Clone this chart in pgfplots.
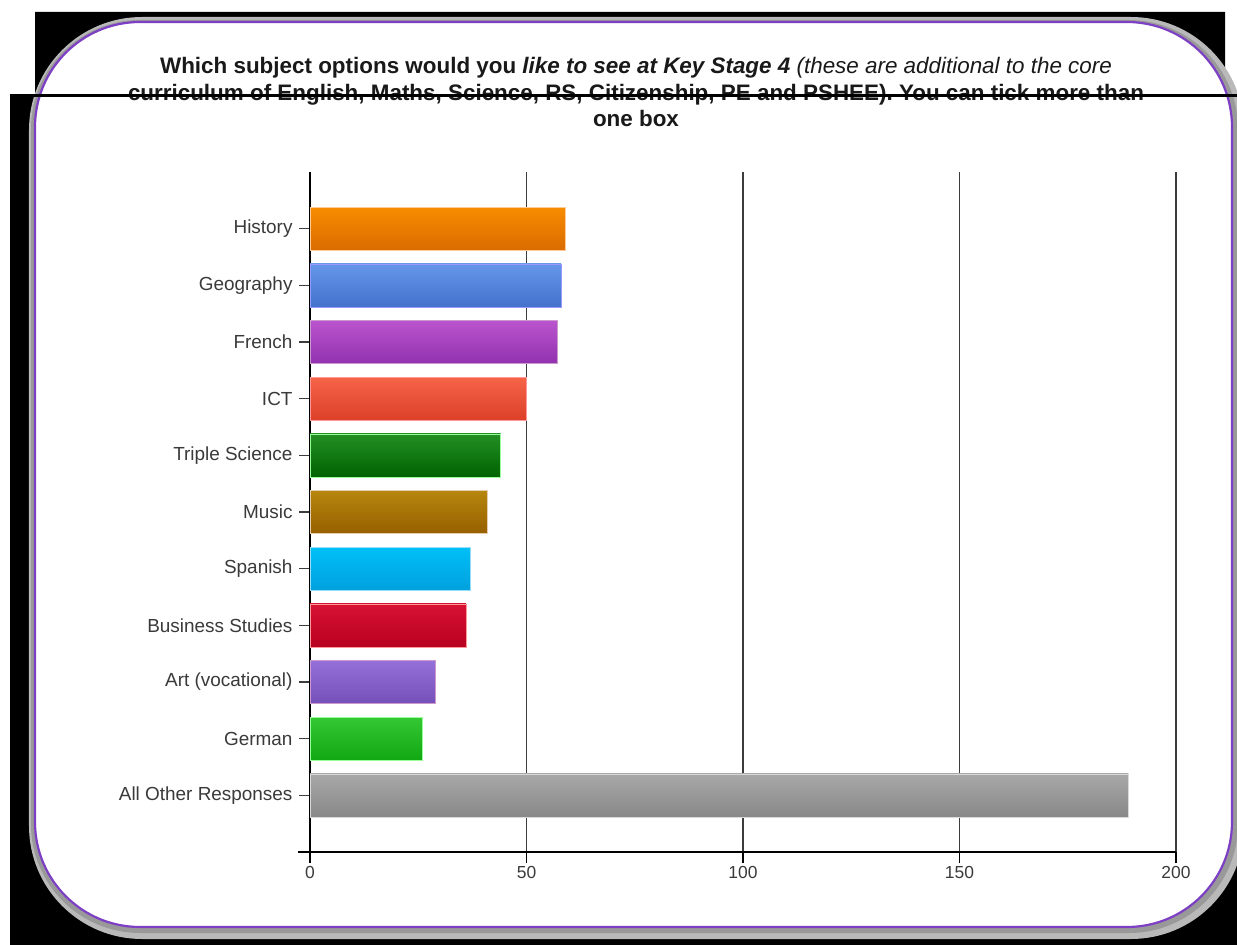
\documentclass[border=0pt]{standalone}
\usepackage{fontspec}
\setmainfont{Liberation Sans}
\usepackage{pgfplots}
\pgfplotsset{compat=1.18}
\definecolor{framepurple}{HTML}{7D3FC4}
\definecolor{labelgray}{HTML}{3A3A3A}
\definecolor{gridgray}{HTML}{3C3C3C}
\begin{document}
\begin{tikzpicture}
\useasboundingbox (0bp,0bp) rectangle (1237bp,945bp);
\begin{scope}[x=1bp,y=1bp]
\fill[white] (0,0) rectangle (1237,945);
\fill[black] (35,933) -- (1225,933) -- (1225,850) -- (1237,850) -- (1237,0) -- (10,0) -- (10,850) -- (35,850) -- cycle;
% soft shadow
\draw[line width=16bp, color=gray!55, rounded corners=105bp] (37,14) rectangle (1236,920);
\draw[line width=8bp, color=gray!80!white, rounded corners=105bp] (35,16) rectangle (1234,921);
% frame
\filldraw[fill=white, draw=framepurple, line width=2.2bp, rounded corners=105bp] (35,18) rectangle (1232,923);
% title
\node[align=center, font=\fontsize{22.5}{26.5}\selectfont\bfseries, text=black!90] at (636,853)
{Which subject options would you \textit{like to see at Key Stage 4} \textit{\mdseries (these are additional to the core}\\
curriculum of English, Maths, Science, RS, Citizenship, PE and PSHEE). You can tick more than\\
one box};
\end{scope}
\begin{axis}[
  at={(310bp,93bp)}, anchor=south west,
  scale only axis, width=866bp, height=680bp,
  xmin=0, xmax=200, ymin=-1, ymax=11,
  axis line style={draw=none},
  tick pos=left,
  xtick={0,50,100,150,200},
  ytick={0,...,10},
  yticklabels={All Other Responses, German, Art (vocational), Business Studies, Spanish, Music, Triple Science, ICT, French, Geography, History},
  xmajorgrids,
  grid style={color=gridgray, line width=1.6bp},
  tick align=outside,
  major tick length=11bp,
  ytick style={color=gridgray, line width=1.6bp},
  xtick style={color=black, line width=1.6bp},
  xticklabel style={font=\fontsize{17.5}{20}\selectfont, text=labelgray},
  yticklabel style={font=\fontsize{19}{22}\selectfont, text=labelgray, xshift=-3bp},
  /pgf/number format/assume math mode=true,
  clip=false,
]
\draw[black, line width=1.6bp] ([xshift=-12bp]axis cs:0,-1) -- (axis cs:200,-1);
\draw[black, line width=1.6bp] ([yshift=-7bp]axis cs:0,-1) -- (axis cs:0,11);
\addplot[xbar, bar shift=0pt, bar width=43bp, draw=white!60!orange, top color={rgb,255:red,248;green,140;blue,0}, bottom color={rgb,255:red,218;green,108;blue,0}] coordinates {(59,10)};
\addplot[xbar, bar shift=0pt, bar width=43bp, draw=white!60!blue, top color={rgb,255:red,102;green,150;blue,234}, bottom color={rgb,255:red,66;green,114;blue,204}] coordinates {(58,9)};
\addplot[xbar, bar shift=0pt, bar width=43bp, draw=white!60!violet, top color={rgb,255:red,186;green,84;blue,206}, bottom color={rgb,255:red,146;green,50;blue,174}] coordinates {(57,8)};
\addplot[xbar, bar shift=0pt, bar width=43bp, draw=white!60!red, top color={rgb,255:red,246;green,100;blue,72}, bottom color={rgb,255:red,220;green,64;blue,40}] coordinates {(50,7)};
\addplot[xbar, bar shift=0pt, bar width=43bp, draw=white!60!green, top color={rgb,255:red,36;green,144;blue,36}, bottom color={rgb,255:red,0;green,99;blue,0}] coordinates {(44,6)};
\addplot[xbar, bar shift=0pt, bar width=43bp, draw=white!60!brown, top color={rgb,255:red,182;green,134;blue,14}, bottom color={rgb,255:red,150;green,96;blue,0}] coordinates {(41,5)};
\addplot[xbar, bar shift=0pt, bar width=43bp, draw=white!60!cyan, top color={rgb,255:red,0;green,192;blue,248}, bottom color={rgb,255:red,0;green,160;blue,222}] coordinates {(37,4)};
\addplot[xbar, bar shift=0pt, bar width=43bp, draw=white!60!red, top color={rgb,255:red,216;green,18;blue,52}, bottom color={rgb,255:red,184;green,0;blue,32}] coordinates {(36,3)};
\addplot[xbar, bar shift=0pt, bar width=43bp, draw=white!60!violet, top color={rgb,255:red,148;green,112;blue,216}, bottom color={rgb,255:red,117;green,80;blue,184}] coordinates {(29,2)};
\addplot[xbar, bar shift=0pt, bar width=43bp, draw=white!60!green, top color={rgb,255:red,52;green,200;blue,52}, bottom color={rgb,255:red,18;green,168;blue,18}] coordinates {(26,1)};
\addplot[xbar, bar shift=0pt, bar width=43bp, draw=white!70!gray, top color={rgb,255:red,168;green,168;blue,168}, bottom color={rgb,255:red,136;green,136;blue,136}] coordinates {(189,0)};
\end{axis}
\draw[black, line width=3bp] (10bp,849bp) -- (1237bp,849bp);
\end{tikzpicture}
\end{document}
